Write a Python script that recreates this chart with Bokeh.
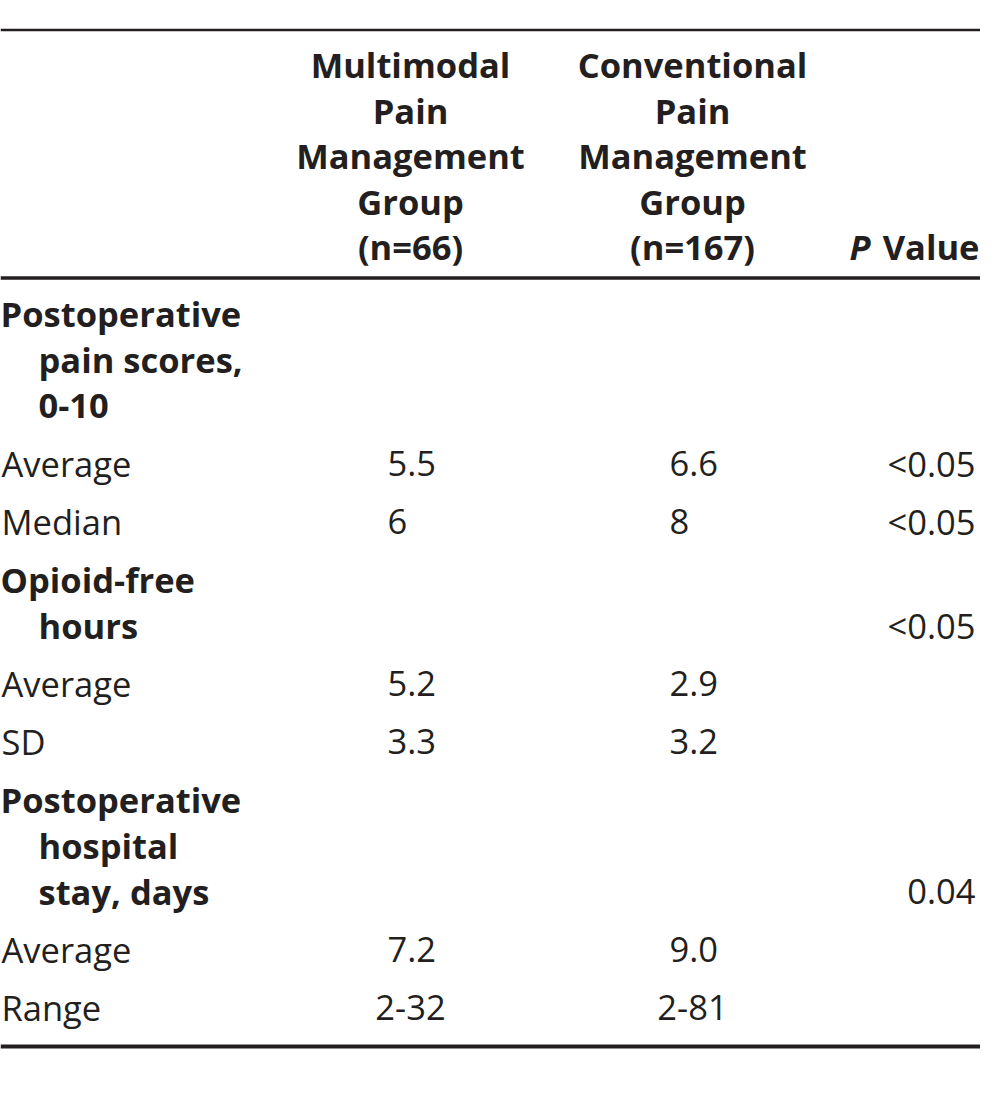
from bokeh.plotting import figure
from bokeh.models import Range1d, ColumnDataSource
from bokeh.core.properties import value
from bokeh.embed import file_html
from bokeh.resources import INLINE

# ---------------- data ----------------
multimodal_header = ["Multimodal", "Pain", "Management", "Group", "(n=66)"]
conventional_header = ["Conventional", "Pain", "Management", "Group", "(n=167)"]
p_header_italic = "P"
p_header_rest = "Value"

section_lines = [
    ["Postoperative", "pain scores,", "0-10"],
    ["Opioid-free", "hours"],
    ["Postoperative", "hospital", "stay, days"],
]
section_p = ["", "<0.05", "0.04"]
stat_labels = [["Average", "Median"], ["Average", "SD"], ["Average", "Range"]]
multimodal_vals = [["5.5", "6"], ["5.2", "3.3"], ["7.2", "2-32"]]
conventional_vals = [["6.6", "8"], ["2.9", "3.2"], ["9.0", "2-81"]]
row_p = [["<0.05", "<0.05"], ["", ""], ["", ""]]

# ---------------- layout ----------------
W, H = 980, 1080
INK = "#231f20"
FONT = value("Open Sans")
FS = "34.5px"
SHIFT = -12  # baseline correction

p = figure(width=W, height=H, x_range=Range1d(0, W), y_range=Range1d(H, 0),
           output_backend="svg", toolbar_location=None,
           x_axis_location=None, y_axis_location=None, min_border=0)
p.grid.grid_line_color = None
p.outline_line_color = None
p.background_fill_color = "white"
p.border_fill_color = "white"

# rules
p.segment(x0=[0], x1=[W], y0=[29.5], y1=[29.5], line_color=INK, line_width=2.6)
p.segment(x0=[0], x1=[W], y0=[277.5], y1=[277.5], line_color=INK, line_width=3.4)
p.segment(x0=[0], x1=[W], y0=[1046], y1=[1046], line_color=INK, line_width=3.8)

COL1, COL2, PCOL = 410, 692, 975
LEFT_OFF = 23
INDENT = 38

def add_text(xs, ys, texts, align="left", style="normal"):
    if not texts:
        return
    src = ColumnDataSource(dict(x=xs, y=[v + SHIFT for v in ys], t=texts))
    p.text(x="x", y="y", text="t", source=src, text_align=align,
           text_baseline="alphabetic", text_font=FONT, text_font_size=FS,
           text_font_style=style, text_color=INK)

# header
hy = [76 + 45.5 * i for i in range(len(multimodal_header))]
add_text([COL1] * len(multimodal_header), hy, multimodal_header, "center", "bold")
add_text([COL2] * len(conventional_header), hy, conventional_header, "center", "bold")
add_text([979], [hy[-1]], [p_header_rest], "right", "bold")
add_text([870], [hy[-1]], [p_header_italic], "right", "bold italic")

# body
sec_x, sec_y, sec_t = [], [], []
lab_x, lab_y, lab_t = [], [], []
left_x, left_y, left_t = [], [], []
cen_x, cen_y, cen_t = [], [], []
pv_x, pv_y, pv_t = [], [], []

y = 325
for s, lines in enumerate(section_lines):
    for i, ln in enumerate(lines):
        sec_x.append(0 if i == 0 else INDENT)
        sec_y.append(y)
        sec_t.append(ln)
        if i == len(lines) - 1 and section_p[s]:
            pv_x.append(PCOL); pv_y.append(y); pv_t.append(section_p[s])
        if i < len(lines) - 1:
            y += 46
    for j, lab in enumerate(stat_labels[s]):
        y += 58
        lab_x.append(1); lab_y.append(y); lab_t.append(lab)
        for col, vals in ((COL1, multimodal_vals), (COL2, conventional_vals)):
            v = vals[s][j]
            if "-" in v:
                cen_x.append(col); cen_y.append(y); cen_t.append(v)
            else:
                left_x.append(col - LEFT_OFF); left_y.append(y); left_t.append(v)
        if row_p[s][j]:
            pv_x.append(PCOL); pv_y.append(y); pv_t.append(row_p[s][j])
    y += 58

add_text(sec_x, sec_y, sec_t, "left", "bold")
add_text(lab_x, lab_y, lab_t, "left", "normal")
add_text(left_x, left_y, left_t, "left", "normal")
add_text(cen_x, cen_y, cen_t, "center", "normal")
add_text(pv_x, pv_y, pv_t, "right", "normal")

open("out.html", "w").write(file_html(p, INLINE))
